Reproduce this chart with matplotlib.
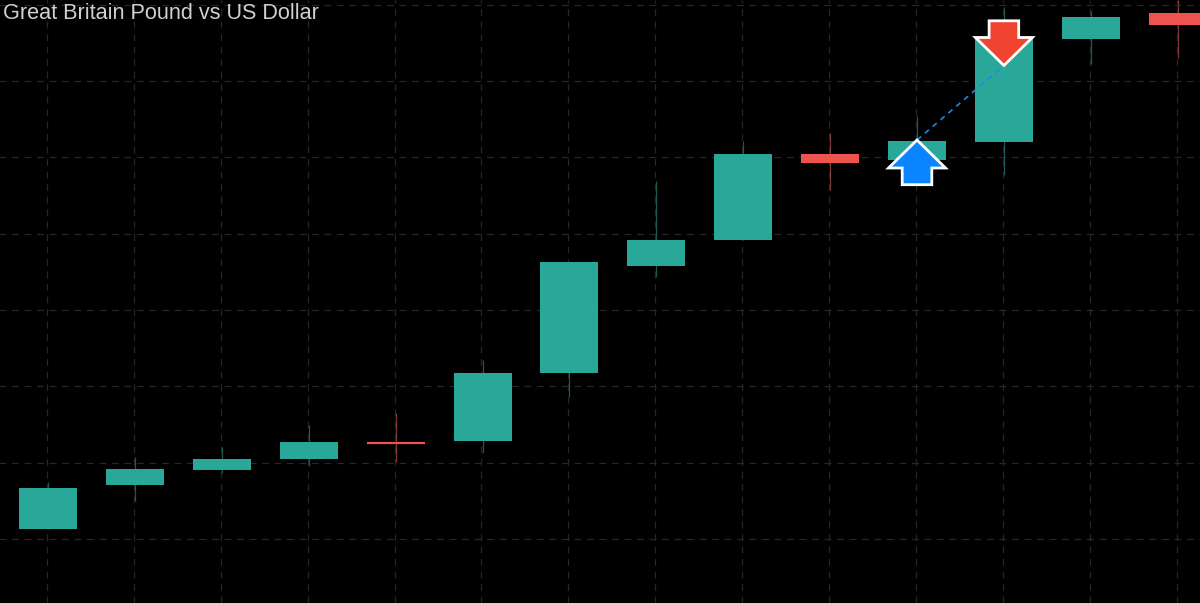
import matplotlib
matplotlib.use("Agg")
import matplotlib.pyplot as plt
from matplotlib.patches import Polygon, Rectangle

candles = list(range(14))
opens = [74, 118, 133, 144, 161, 162, 230, 337, 363, 449, 443, 461, 564, 590]
closes = [115, 134.5, 144, 161.5, 160, 230, 341, 363, 449, 440, 462, 565, 586, 578.5]
highs = [121, 146, 156, 178, 190, 243, 341, 422, 462, 470, 487, 596, 592, 603]
lows = [74, 102, 130, 137, 141, 150, 206, 326, 363, 413, 443, 428, 539, 545]
grid_x = [i - 0.012 for i in candles]
grid_y = [64, 140.5, 217, 293, 369, 446, 522, 598]
title = "Great Britain Pound vs US Dollar"
buy_index, buy_price = 10, 463
sell_index, sell_price = 11, 537.5

GREEN = "#29a899"
RED = "#ef5350"
step = 86.9
first = 48.0
W, H = 1200, 603

fig = plt.figure(figsize=(12, 6.03), dpi=100, facecolor="black")
ax = fig.add_axes([0, 0, 1, 1], facecolor="black")
ax.set_xlim(-first / step, (W - first) / step)
ax.set_ylim(0, H)
ax.axis("off")

for x in grid_x:
    ax.plot([x, x], [0, H], color="#262626", lw=0.9, dashes=(5.5, 4.5), zorder=1)
for y in grid_y:
    ax.plot([-1, 15], [y, y], color="#262626", lw=0.9, dashes=(5.5, 4.5), zorder=1)

body = 58 / step
for i, o, c, h, l in zip(candles, opens, closes, highs, lows):
    col = GREEN if c >= o else RED
    wick = "#1d5a54" if c >= o else "#7d3a39"
    ax.plot([i, i], [l, h], color=wick, lw=0.9, zorder=2, solid_capstyle="butt")
    bottom, top = min(o, c), max(o, c)
    if top - bottom < 3:
        ax.plot([i - body / 2, i + body / 2], [(o + c) / 2] * 2, color=col, lw=1.6, zorder=3,
                solid_capstyle="butt")
    else:
        ax.add_patch(Rectangle((i - body / 2, bottom), body, top - bottom, facecolor=col,
                               edgecolor="none", zorder=3))

ax.plot([buy_index, sell_index], [buy_price, sell_price], color="#1e88e5", lw=1.2,
        dashes=(3.2, 3), zorder=4)


def arrow(i, tip, direction, color):
    s = direction
    half_head, head, half_shaft, total = 28.5 / step, 28, 14.8 / step, 44.7
    pts = [(i, tip), (i + half_head, tip - s * head), (i + half_shaft, tip - s * head),
           (i + half_shaft, tip - s * total), (i - half_shaft, tip - s * total),
           (i - half_shaft, tip - s * head), (i - half_head, tip - s * head)]
    ax.add_patch(Polygon(pts, closed=True, facecolor=color, edgecolor="white", lw=2.0,
                         joinstyle="miter", zorder=5))


arrow(buy_index, buy_price, 1, "#0a84ff")
arrow(sell_index, sell_price, -1, "#f04430")

ax.text(3 / W, 1 - 13.5 / H, title, transform=ax.transAxes, color="#d0d0d0", fontsize=15.6,
        family="Liberation Sans", va="center", ha="left", zorder=6)

fig.savefig("out.png", dpi=100, facecolor="black")
